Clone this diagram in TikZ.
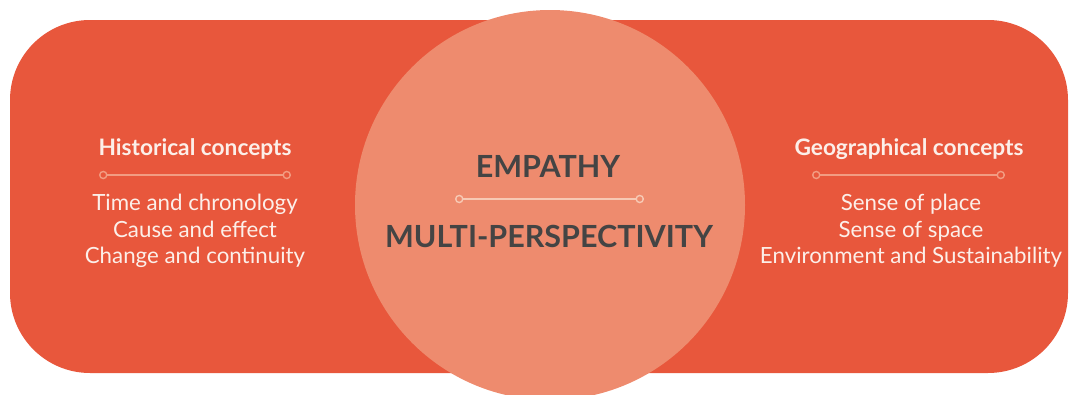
\documentclass[tikz,border=0pt]{standalone}
\usepackage{fontspec}
\setmainfont{Lato}
\usetikzlibrary{arrows.meta, positioning}

\definecolor{bandred}{HTML}{E8573C}
\definecolor{coresalmon}{HTML}{EE8B6E}
\definecolor{inkgray}{HTML}{444444}
\definecolor{ruleside}{HTML}{F29C82}
\definecolor{rulecore}{HTML}{F7C9B4}
\definecolor{softwhite}{HTML}{FCEFE9}

\begin{document}
\begin{tikzpicture}[
			x=1pt, y=-1pt,
			% headings on the red band
			headline/.style={
				text=softwhite,
				font=\fontsize{22.7}{26}\selectfont\bfseries,
				inner sep=0pt
			},
			% lists under the headings
			listtext/.style={
				text=softwhite,
				font=\fontsize{22.3}{26.5}\selectfont,
				align=center,
				inner sep=0pt
			},
			% words in the middle circle
			coretext/.style={
				text=inkgray,
				font=\fontsize{30.5}{34}\selectfont\bfseries,
				inner sep=0pt
			},
			% small rules with rings at both ends
			rulemark/.style={
				{Circle[open, length=8.5pt, width=8.5pt]}-{Circle[open, length=8.5pt, width=8.5pt]},
				line width=1.4pt
			}
			]
			
			\useasboundingbox (0,0) rectangle (1069,394);
			\clip (0,0) rectangle (1069,394);
			
			% band and circle
			\fill[bandred, rounded corners=80pt] (10,20) rectangle (1068,373);
			\node[circle, fill=coresalmon, minimum size=390pt, inner sep=0pt] (core) at (550,205) {};
			
			% left side
			\node[headline] (histhead) at (195,149) {Historical concepts};
			\node[listtext] (histlist) at (195,231) {Time and chronology\\Cause and effect\\Change and continuity};
			\coordinate (histL) at (99,175);
			\coordinate (histR) at (291,175);
			\draw[rulemark, draw=ruleside] (histL) -- (histR);
			
			% right side
			\node[headline] (geohead) at (909,149) {Geographical concepts};
			\node[listtext] (geolist) at (911,231) {Sense of place\\Sense of space\\Environment and Sustainability};
			\coordinate (geoL) at (812,175);
			\coordinate (geoR) at (1005,175);
			\draw[rulemark, draw=ruleside] (geoL) -- (geoR);
			
			% middle
			\node[coretext] (empathy) at (548,166) {EMPATHY};
			\node[coretext] (multi) at (549,236) {MULTI-PERSPECTIVITY};
			\coordinate (coreL) at (455,199);
			\coordinate (coreR) at (644,199);
			\draw[rulemark, draw=rulecore] (coreL) -- (coreR);
			
		\end{tikzpicture}
\end{document}
